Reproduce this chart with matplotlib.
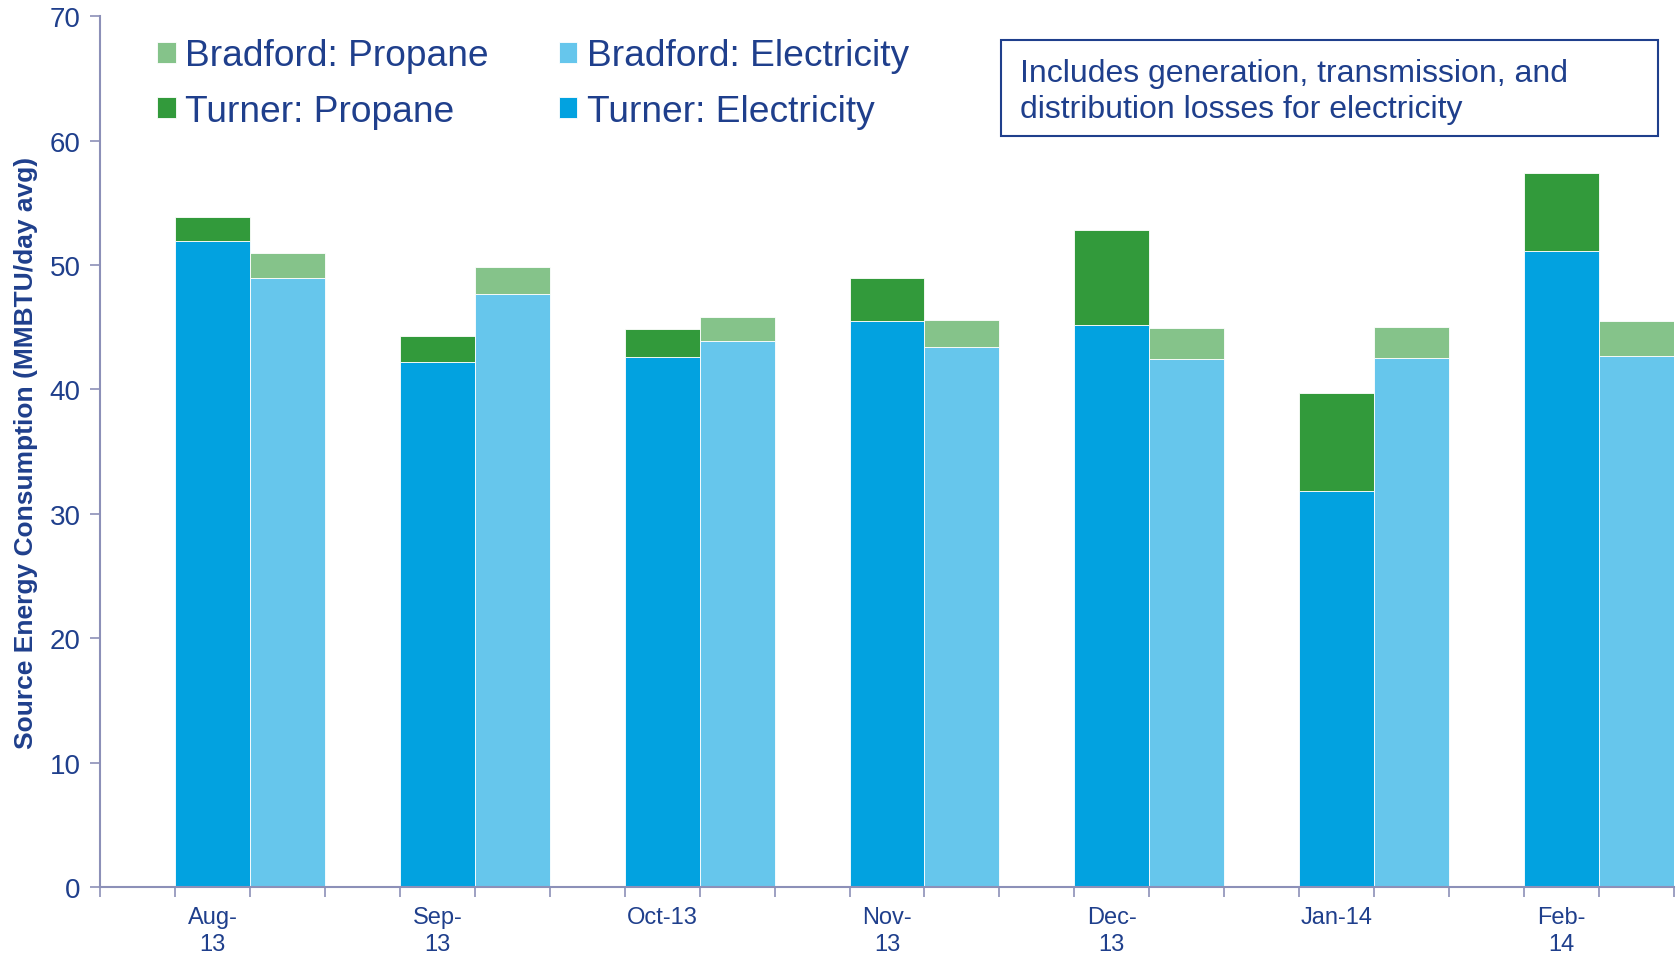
import numpy as np
import matplotlib
matplotlib.use("Agg")
import matplotlib.pyplot as plt
from matplotlib.patches import Rectangle

plt.rcParams['font.family'] = ['Liberation Sans', 'DejaVu Sans']

# data (MMBTU/day avg)
months = ['Aug-\n13', 'Sep-\n13', 'Oct-13', 'Nov-\n13', 'Dec-\n13', 'Jan-14', 'Feb-\n14']
turner_elec = [51.9, 42.2, 42.6, 45.5, 45.2, 31.8, 51.1]
turner_total = [53.9, 44.3, 44.9, 49.0, 52.8, 39.7, 57.4]
bradford_elec = [48.95, 47.7, 43.9, 43.4, 42.45, 42.5, 42.7]
bradford_total = [51.0, 49.85, 45.85, 45.6, 44.95, 45.05, 45.5]

turner_prop = [t - e for t, e in zip(turner_total, turner_elec)]
bradford_prop = [t - e for t, e in zip(bradford_total, bradford_elec)]

c_te = '#02A2E0'
c_be = '#66C6EC'
c_tp = '#329A3B'
c_bp = '#85C38A'
txt = '#1F3F8C'
axc = '#8C90B8'

fig = plt.figure(figsize=(16.79, 9.54), dpi=100)
ax = fig.add_axes([100/1679, 1-888/954, 1574/1679, (888-17.3)/954])

n = len(months)
x = np.arange(n) * 3
ax.bar(x + 1.5, turner_elec, width=1, color=c_te, edgecolor='white', linewidth=0.6, label='Turner: Electricity')
ax.bar(x + 1.5, turner_prop, bottom=turner_elec, width=1, color=c_tp, edgecolor='white', linewidth=0.6, label='Turner: Propane')
ax.bar(x + 2.5, bradford_elec, width=1, color=c_be, edgecolor='white', linewidth=0.6, label='Bradford: Electricity')
ax.bar(x + 2.5, bradford_prop, bottom=bradford_elec, width=1, color=c_bp, edgecolor='white', linewidth=0.6, label='Bradford: Propane')

ax.set_xlim(0, 3 * n)
ax.set_ylim(0, 70)
ax.set_yticks(range(0, 71, 10))
ax.set_xticks(range(0, 3 * n + 1))
ax.set_xticklabels([])
ax.set_xticks(x + 1.5, minor=True)
ax.set_xticklabels(months, minor=True, fontsize=17, color=txt, linespacing=1.25)
ax.tick_params(axis='x', which='minor', length=0, pad=14)
ax.tick_params(axis='x', which='major', length=7, width=1.2, color=axc, direction='out')
ax.tick_params(axis='y', length=7, width=1.2, color=axc, labelsize=20, labelcolor=txt, pad=7)

for s in ['top', 'right']:
    ax.spines[s].set_visible(False)
for s in ['left', 'bottom']:
    ax.spines[s].set_color(axc)
    ax.spines[s].set_linewidth(1.5)

ax.set_ylabel('Source Energy Consumption (MMBTU/day avg)', fontsize=19, fontweight='bold', color=txt)
ax.yaxis.set_label_coords(-0.0395, 0.5)

h, l = ax.get_legend_handles_labels()
leg = ax.legend([h[i] for i in [3, 1, 2, 0]], [l[i] for i in [3, 1, 2, 0]], ncol=2,
                loc='upper left', bbox_to_anchor=(157/1679, 1-39.5/954), bbox_transform=fig.transFigure,
                frameon=False, fontsize=26.7, handlelength=0.5, handleheight=0.5, handletextpad=0.25,
                columnspacing=1.9, labelspacing=0.54, borderaxespad=0, borderpad=0)
for t in leg.get_texts():
    t.set_color(txt)

fig.patches.append(Rectangle((1001/1679, 1-137/954), 657/1679, 96/954, transform=fig.transFigure,
                             facecolor='white', edgecolor=txt, linewidth=1.5))
fig.text(1020/1679, 1-92/954, 'Includes generation, transmission, and\ndistribution losses for electricity',
         fontsize=23, color=txt, va='center', ha='left', linespacing=1.3)

fig.savefig('out.png', dpi=100)
